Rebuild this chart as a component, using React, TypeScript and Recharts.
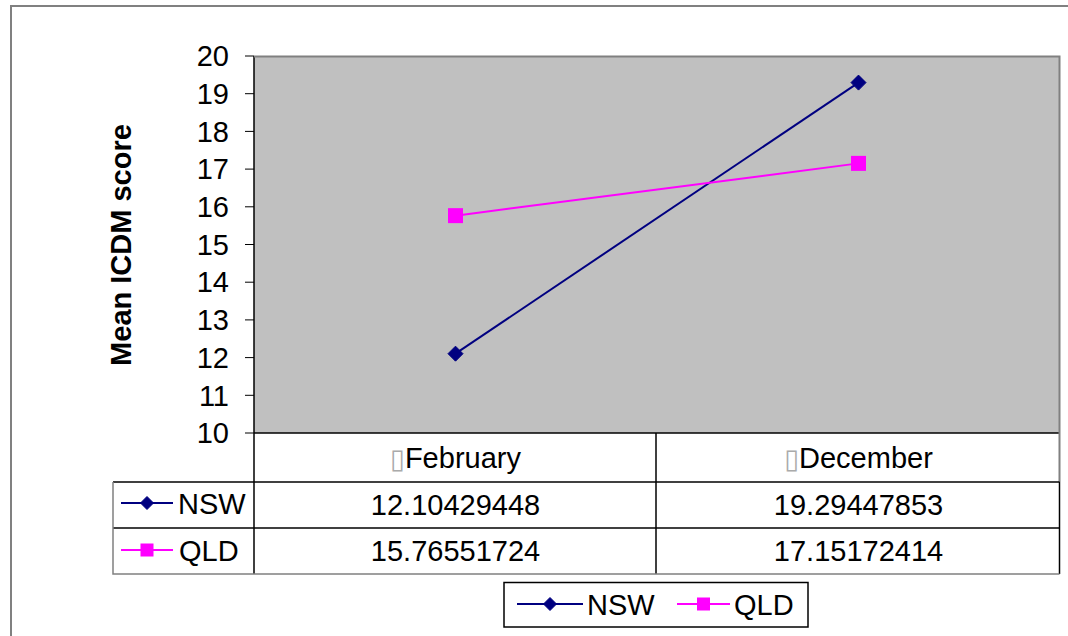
import { LineChart, Line, XAxis, YAxis, CartesianGrid } from "recharts";

const months = ["February", "December"];
const seriesNames = ["NSW", "QLD"];
const nswScores = [12.10429448, 19.29447853];
const qldScores = [15.76551724, 17.15172414];
const yTicks = [10, 11, 12, 13, 14, 15, 16, 17, 18, 19, 20];

const COLORS = {
  nsw: "#000080",
  qld: "#FF00FF",
  plot: "#C0C0C0",
  frame: "#808080",
  ink: "#000000",
};

const FONT = "'Liberation Sans', Arial, sans-serif";

const data = months.map((month, i) => ({
  month,
  nsw: nswScores[i],
  qld: qldScores[i],
}));

const Diamond = ({ cx, cy, r = 7.5 }: { cx: number; cy: number; r?: number }) => (
  <polygon
    points={`${cx},${cy - r} ${cx + r},${cy} ${cx},${cy + r} ${cx - r},${cy}`}
    fill={COLORS.nsw}
    stroke={COLORS.nsw}
    strokeWidth={1}
  />
);

const Square = ({ cx, cy, s = 15 }: { cx: number; cy: number; s?: number }) => (
  <rect x={cx - s / 2} y={cy - s / 2} width={s} height={s} fill={COLORS.qld} />
);

// category header + value cells of the data table, placed by the x scale
const TableTick = (props: any) => {
  const { x, payload } = props;
  const i = payload.index;
  return (
    <g fontFamily={FONT} fontSize={29} fill={COLORS.ink} textAnchor="middle">
      <text x={x} y={468}>
        <tspan fontFamily="DejaVu Sans" fontSize={27} fill="#aaa">
          ▯
        </tspan>
        <tspan>{payload.value}</tspan>
      </text>
      <text x={x} y={515}>
        {nswScores[i].toFixed(8)}
      </text>
      <text x={x} y={561}>
        {qldScores[i].toFixed(8)}
      </text>
    </g>
  );
};

const LegendKey = ({ series, x, y, w }: { series: number; x: number; y: number; w: number }) => (
  <g>
    <line x1={x} y1={y} x2={x + w} y2={y} stroke={series === 0 ? COLORS.nsw : COLORS.qld} strokeWidth={2} />
    {series === 0 ? <Diamond cx={x + w / 2} cy={y} r={6.5} /> : <Square cx={x + w / 2} cy={y} s={13} />}
  </g>
);

export default function App() {
  return (
    <div style={{ position: "absolute", left: 0, top: 0, width: 1068, height: 636, background: "#fff" }}>
      <LineChart width={1068} height={636} data={data} margin={{ top: 56, right: 8, bottom: 0, left: 174 }}>
        <CartesianGrid fill={COLORS.plot} horizontal={false} vertical={false} />
        <XAxis
          dataKey="month"
          height={203}
          padding={{ left: 201.5, right: 201.5 }}
          axisLine={{ stroke: COLORS.ink, strokeWidth: 1.5 }}
          tickLine={false}
          interval={0}
          tick={<TableTick />}
        />
        <YAxis
          width={80}
          domain={[10, 20]}
          ticks={yTicks}
          interval={0}
          tickSize={9}
          tickMargin={16}
          axisLine={{ stroke: COLORS.ink, strokeWidth: 1.5 }}
          tickLine={{ stroke: COLORS.ink }}
          tick={{ fontSize: 29, fill: COLORS.ink, fontFamily: FONT }}
        />
        <Line
          dataKey="nsw"
          name="NSW"
          stroke={COLORS.nsw}
          strokeWidth={2}
          dot={(p: any) => <Diamond key={`n${p.index}`} cx={p.cx} cy={p.cy} />}
          activeDot={false}
          isAnimationActive={false}
        />
        <Line
          dataKey="qld"
          name="QLD"
          stroke={COLORS.qld}
          strokeWidth={2}
          dot={(p: any) => <Square key={`q${p.index}`} cx={p.cx} cy={p.cy} />}
          activeDot={false}
          isAnimationActive={false}
        />
      </LineChart>

      <svg width={1068} height={636} style={{ position: "absolute", left: 0, top: 0, pointerEvents: "none" }}>
        {/* chart frame */}
        <path d="M11,636 V6 H1068" fill="none" stroke={COLORS.frame} strokeWidth={2} />
        {/* plot area border */}
        <path d="M254,56.5 H1059.5 V482" fill="none" stroke={COLORS.frame} strokeWidth={2} />

        {/* data table grid */}
        <g stroke={COLORS.ink} strokeWidth={1.5}>
          <line x1={113} y1={482} x2={1059.5} y2={482} />
          <line x1={113} y1={528} x2={1059.5} y2={528} />
          <line x1={254} y1={433} x2={254} y2={574} />
          <line x1={656} y1={433} x2={656} y2={574} />
          <line x1={1059.5} y1={482} x2={1059.5} y2={574} />
        </g>
        <path d="M113,482 V574 H1059.5" fill="none" stroke={COLORS.frame} strokeWidth={1.5} />

        {/* series labels in the table */}
        <g fontFamily={FONT} fontSize={29} fill={COLORS.ink}>
          <LegendKey series={0} x={121} y={503} w={52} />
          <text x={178} y={514}>{seriesNames[0]}</text>
          <LegendKey series={1} x={121} y={550} w={52} />
          <text x={179} y={561}>{seriesNames[1]}</text>
        </g>

        {/* y axis title */}
        <text
          x={131}
          y={245}
          transform="rotate(-90 131 245)"
          textAnchor="middle"
          fontFamily={FONT}
          fontSize={29}
          fontWeight="bold"
          fill={COLORS.ink}
        >
          Mean ICDM score
        </text>

        {/* legend */}
        <rect x={504} y={582.5} width={304} height={44.5} fill="#fff" stroke={COLORS.ink} strokeWidth={1.5} />
        <g fontFamily={FONT} fontSize={29} fill={COLORS.ink}>
          <LegendKey series={0} x={517} y={604} w={66} />
          <text x={587} y={615}>{seriesNames[0]}</text>
          <LegendKey series={1} x={677} y={604} w={53} />
          <text x={734} y={615}>{seriesNames[1]}</text>
        </g>
      </svg>
    </div>
  );
}
